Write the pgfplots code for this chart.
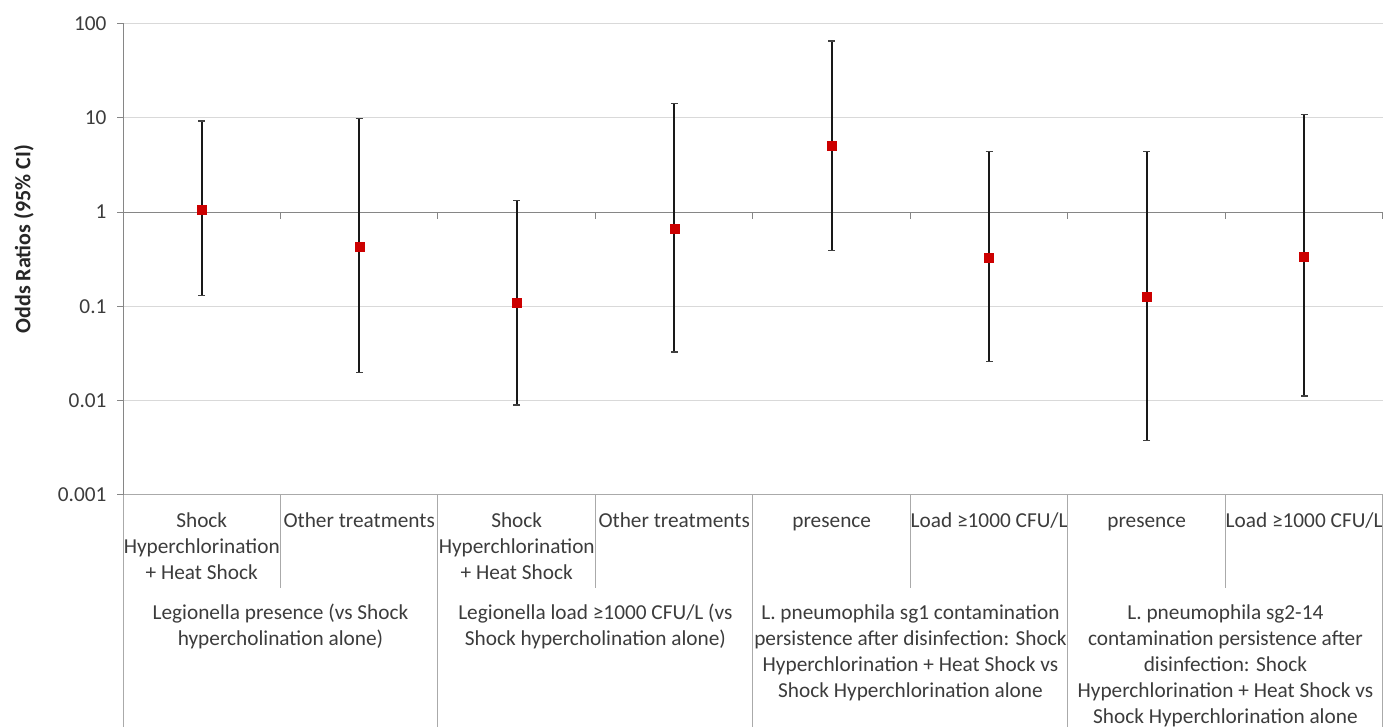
\documentclass[border=0pt]{standalone}
\usepackage{pgfplots}
\usepackage{pgfplotstable}
\pgfplotsset{compat=1.18}
\usepackage{fontspec}
\setmainfont{Carlito}
\definecolor{gridc}{RGB}{217,217,217}
\definecolor{axc}{RGB}{134,134,134}
\definecolor{tabc}{RGB}{170,170,170}
\definecolor{txt}{RGB}{60,60,60}
\definecolor{mred}{RGB}{204,0,0}
\newcommand{\cf}{\fontsize{21.3}{26}\selectfont}
\pgfplotstableread{
x y lo hi
0 1.07 0.13 9.2
1 0.43 0.020 9.8
2 0.11 0.009 1.32
3 0.66 0.033 14.2
4 5.1 0.39 65
5 0.33 0.026 4.4
6 0.128 0.0038 4.4
7 0.34 0.0112 10.8
}\datatab
\begin{document}
\begin{tikzpicture}
\path[use as bounding box] (0,0) rectangle (1392pt,727pt);
\begin{axis}[name=ax, at={(123pt,232pt)}, anchor=south west,
  scale only axis, width=1260pt, height=471.5pt,
  ymode=log, ymin=0.001, ymax=100, xmin=-0.5, xmax=7.5,
  axis y line*=left, axis x line*=bottom,
  x axis line style={tabc, line width=1pt, -},
  y axis line style={axc, line width=1pt, -},
  ytick={0.001,0.01,0.1,1,10,100}, yticklabels={0.001,0.01,0.1,1,10,100},
  yminorticks=false,
  ymajorgrids, grid style={gridc, line width=1pt},
  tick align=outside, major tick length=6pt,
  ytick style={axc, line width=1pt},
  xtick={0,...,7}, xtick style={draw=none},
  xticklabels={{\strut Shock\\Hyperchlorination\\+ Heat Shock},{\strut Other treatments},{\strut Shock\\Hyperchlorination\\+ Heat Shock},{\strut Other treatments},{\strut presence},{\strut Load ≥1000 CFU/L},{\strut presence},{\strut Load ≥1000 CFU/L}},
  x tick label style={anchor=north, align=center, yshift=-7.8pt, font=\cf, text=txt, inner sep=0pt},
  y tick label style={font=\cf, text=txt, xshift=-7pt},
  clip=false,
]
\draw[axc, line width=1pt] (axis cs:-0.5,1) -- (axis cs:7.5,1);
\pgfplotsinvokeforeach{0.5,1.5,2.5,3.5,4.5,5.5,6.5,7.5}{
  \draw[axc, line width=1pt] (axis cs:#1,1) -- ++(0pt,-7pt);
}
\addplot[only marks, mark=none,
  error bars/.cd, y dir=both, y explicit,
  error bar style={draw=black!90, line width=1.8pt},
  error mark=|, error mark options={draw=black!75, line width=1.5pt, mark size=3.5pt}]
  table[x=x, y=y, y error plus expr=\thisrow{hi}-\thisrow{y}, y error minus expr=\thisrow{y}-\thisrow{lo}] {\datatab};
\addplot[only marks, mark=square*, mark size=4.5pt, mark options={draw=mred, fill=mred}]
  table[x=x, y=y] {\datatab};
\pgfplotsinvokeforeach{-0.5,1.5,3.5,5.5,7.5}{
  \draw[tabc, line width=1pt] (axis cs:#1,0.001) -- ++(0pt,-232pt);
}
\pgfplotsinvokeforeach{0.5,2.5,4.5,6.5}{
  \draw[tabc, line width=1pt] (axis cs:#1,0.001) -- ++(0pt,-93pt);
}
\node[anchor=north, align=center, font=\cf, text=txt, inner sep=0pt, yshift=-105.8pt] at (axis cs:0.5,0.001) {\strut Legionella presence (vs Shock\\hypercholination alone)};
\node[anchor=north, align=center, font=\cf, text=txt, inner sep=0pt, yshift=-105.8pt] at (axis cs:2.5,0.001) {\strut Legionella load ≥1000 CFU/L (vs\\Shock hypercholination alone)};
\node[anchor=north, align=center, font=\cf, text=txt, inner sep=0pt, yshift=-105.8pt] at (axis cs:4.5,0.001) {\strut L. pneumophila sg1 contamination\\persistence after disinfection: Shock\\Hyperchlorination + Heat Shock vs\\Shock Hyperchlorination alone};
\node[anchor=north, align=center, font=\cf, text=txt, inner sep=0pt, yshift=-105.8pt] at (axis cs:6.5,0.001) {\strut L. pneumophila sg2-14\\contamination persistence after\\disinfection: Shock\\Hyperchlorination + Heat Shock vs\\Shock Hyperchlorination alone};
\end{axis}
\node[rotate=90, font=\bfseries\fontsize{22}{26}\selectfont, text=black!85] at ([xshift=-99pt,yshift=20pt]ax.west) {Odds Ratios (95\% CI)};
\end{tikzpicture}
\end{document}
